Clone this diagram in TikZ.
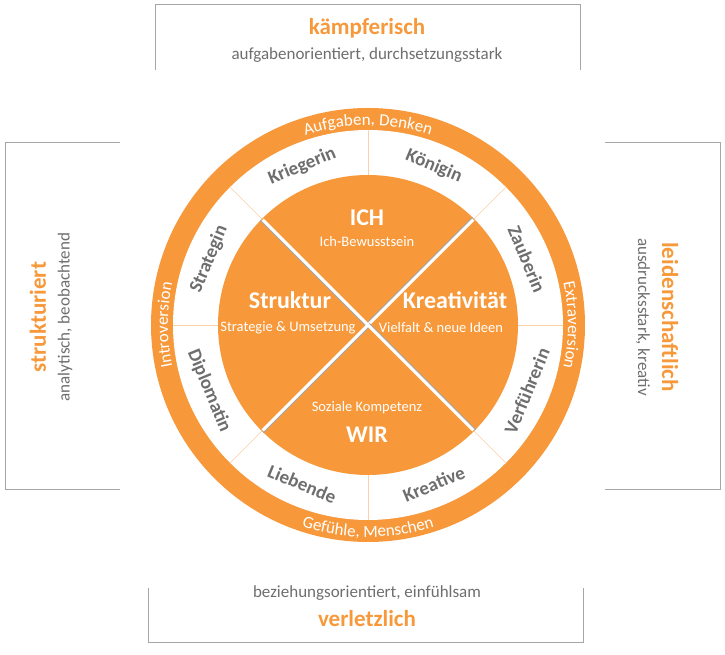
\documentclass[tikz,border=0pt]{standalone}
\usepackage{fontspec}
\setmainfont{Carlito}
\usetikzlibrary{decorations.text}
\definecolor{org}{HTML}{F7993B}
\definecolor{gr}{HTML}{6E6E6E}
\definecolor{bx}{HTML}{A6A6A6}
\begin{document}
\begin{tikzpicture}[x=1pt,y=1pt,
  frame/.style={draw=bx,line width=1pt},
  head/.style={text=org,font=\bfseries\fontsize{23}{25}\selectfont},
  sub/.style={text=gr,font=\fontsize{17}{19}\selectfont},
  role/.style={text=gr,font=\bfseries\fontsize{19}{21}\selectfont},
  big/.style={text=white,font=\bfseries\fontsize{24}{26}\selectfont},
  small/.style={text=white,font=\fontsize{14.5}{16}\selectfont},
  sep/.style={draw=org!45,line width=0.6pt},
  arctext/.style={decorate,decoration={text along path,text align=center,
     text={|\color{white}\fontsize{17}{18}\selectfont|#1}}}]
\useasboundingbox (0,0) rectangle (725,655);
\coordinate (c) at (368,330);
% frames
\draw[frame] (155,585) -- (155,650) -- (580,650) -- (580,585);
\draw[frame] (120,512) -- (5,512) -- (5,165) -- (120,165);
\draw[frame] (605,512) -- (720,512) -- (720,165) -- (605,165);
\draw[frame] (148,67) -- (148,12) -- (583,12) -- (583,67);
\node[head] (h1) at (367,627) {kämpferisch};
\node[sub] (s1) at (367,600) {aufgabenorientiert, durchsetzungsstark};
\node[head,rotate=90] (h2) at (38,338) {strukturiert};
\node[sub,rotate=90] (s2) at (65,338) {analytisch, beobachtend};
\node[head,rotate=-90] (h3) at (670,338) {leidenschaftlich};
\node[sub,rotate=-90] (s3) at (643,338) {ausdrucksstark, kreativ};
\node[sub] (s4) at (367,62) {beziehungsorientiert, einfühlsam};
\node[head] (h4) at (367,36) {verletzlich};
% circles
\fill[org] (c) circle[radius=217];
\fill[white] (c) circle[radius=195];
\foreach \a in {0,45,...,315} \draw[sep] (c) ++(\a:150) -- ++(\a:45);
\fill[org] (c) circle[radius=150];
\foreach \a in {45,135,225,315} {
  \draw[gray!70,line width=1.5pt] ([shift={(\a+90:1.8)}]c) -- ++(\a:150);
  \draw[white,line width=3pt] (c) -- ++(\a:149);
}
% ring text
\path[arctext={Aufgaben, Denken}] (c) ++(140:200) arc[start angle=140,end angle=40,radius=200];
\path[arctext={Gefühle, Menschen}] (c) ++(205:212) arc[start angle=205,end angle=335,radius=212];
\path[arctext={Introversion}] (c) ++(235:200) arc[start angle=235,end angle=125,radius=200];
\path[arctext={Extraversion}] (c) ++(55:200) arc[start angle=55,end angle=-55,radius=200];
% roles
\node[role,rotate=22.5] (r1) at ([shift={(112.5:172)}]c) {Kriegerin};
\node[role,rotate=-22.5] (r2) at ([shift={(67.5:172)}]c) {Königin};
\node[role,rotate=-67.5] (r3) at ([shift={(22.5:172)}]c) {Zauberin};
\node[role,rotate=67.5] (r4) at ([shift={(-22.5:172)}]c) {Verführerin};
\node[role,rotate=22.5] (r5) at ([shift={(-67.5:172)}]c) {Kreative};
\node[role,rotate=-22.5] (r6) at ([shift={(-112.5:172)}]c) {Liebende};
\node[role,rotate=-67.5] (r7) at ([shift={(-157.5:172)}]c) {Diplomatin};
\node[role,rotate=67.5] (r8) at ([shift={(157.5:172)}]c) {Strategin};
% inner
\node[big] (ich) at (367,437) {ICH};
\node[small] (ichs) at (367,413) {Ich-Bewusstsein};
\node[big] (str) at (290,355) {Struktur};
\node[small] (strs) at (288,327) {Strategie \& Umsetzung};
\node[big] (kre) at (455,355) {Kreativität};
\node[small] (kres) at (441,327) {Vielfalt \& neue Ideen};
\node[small] (wirs) at (367,247) {Soziale Kompetenz};
\node[big] (wir) at (367,220) {WIR};
\end{tikzpicture}
\end{document}
